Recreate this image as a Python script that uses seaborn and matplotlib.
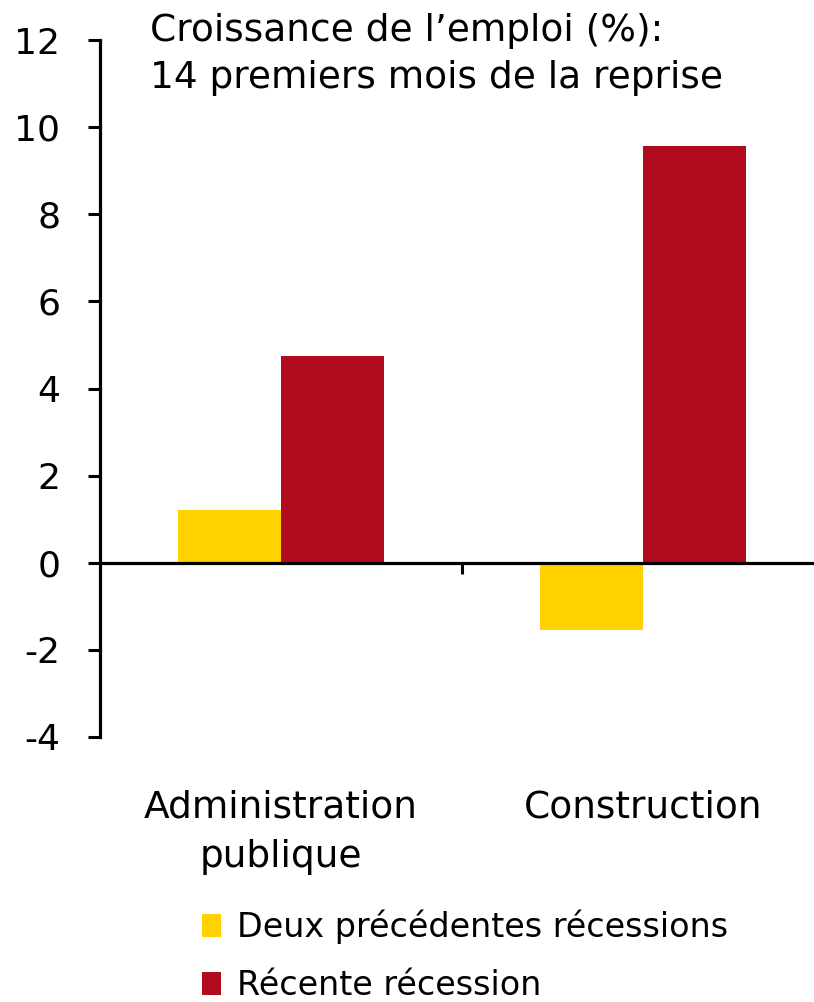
import matplotlib.pyplot as plt
import matplotlib as mpl
import pandas as pd
import seaborn as sns

categories = ['Administration\npublique', 'Construction']
series = ['Deux précédentes récessions', 'Récente récession']
deux_precedentes = [1.22, -1.54]
recente = [4.74, 9.57]
yticks = [-4, -2, 0, 2, 4, 6, 8, 10, 12]

df = pd.DataFrame({
    'secteur': categories * 2,
    'periode': [series[0]] * 2 + [series[1]] * 2,
    'croissance': deux_precedentes + recente,
})

sns.set_style('white')
mpl.rcParams['font.family'] = ['DejaVu Sans']
mpl.rcParams['text.color'] = 'black'
mpl.rcParams['xtick.color'] = 'black'
mpl.rcParams['ytick.color'] = 'black'

fig = plt.figure(figsize=(8.14, 10.02), dpi=100)
ax = fig.add_axes([100 / 814, 265 / 1002, 724 / 814, 697 / 1002])

palette = {series[0]: '#FFD200', series[1]: '#B00C1E'}
sns.barplot(data=df, x='secteur', y='croissance', hue='periode', palette=palette,
            width=0.57, gap=0, linewidth=0, saturation=1, ax=ax, legend=True)

ax.set_ylim(-4, 12)
ax.set_xlim(-0.5, 1.5)
ax.set_yticks(yticks)
ax.set_yticklabels([str(t) for t in yticks], fontsize=26)
ax.set_xticks([0.5])
ax.set_xticklabels([''])
ax.set_xlabel('')
ax.set_ylabel('')

for s in ['top', 'right']:
    ax.spines[s].set_visible(False)
ax.spines['left'].set_linewidth(2.3)
ax.spines['left'].set_color('black')
ax.spines['bottom'].set_position(('data', 0))
ax.spines['bottom'].set_linewidth(2.3)
ax.spines['bottom'].set_color('black')
ax.tick_params(axis='y', direction='out', length=8.6, width=2.2, pad=20, left=True)
ax.tick_params(axis='x', direction='out', length=8, width=2.2, bottom=True)

trans = mpl.transforms.blended_transform_factory(ax.transData, fig.transFigure)
for i, lab in enumerate(categories):
    ax.text(i, 1 - 790 / 1002, lab, transform=trans, ha='center', va='top',
            fontsize=27, linespacing=1.45)

fig.text(150 / 814, 1 - 13 / 1002, "Croissance de l\u2019emploi (%):\n14 premiers mois de la reprise",
         ha='left', va='top', fontsize=27, linespacing=1.4)

handles, labels = ax.get_legend_handles_labels()
ax.get_legend().remove()
fig.legend(handles, labels, loc='upper left', bbox_to_anchor=(189 / 814, 1 - 896 / 1002),
           frameon=False, fontsize=24, handlelength=0.55, handleheight=0.7,
           handletextpad=0.5, labelspacing=0.75, borderaxespad=0)

fig.savefig('out.png', dpi=100)
